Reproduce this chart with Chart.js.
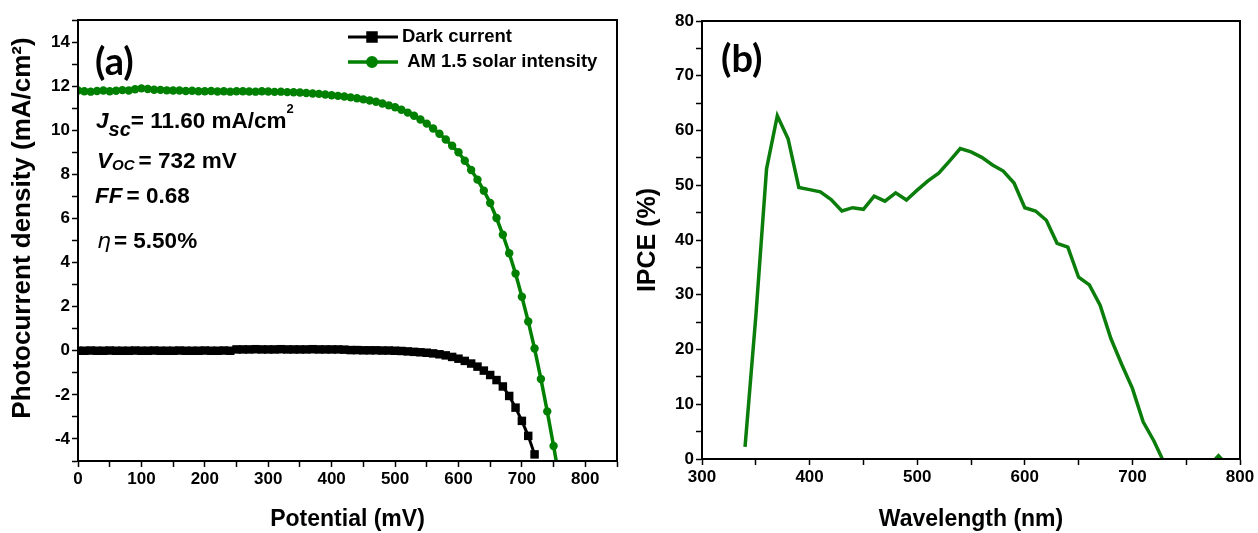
<!DOCTYPE html>
<html>
<head>
<meta charset="utf-8">
<script src="https://cdn.jsdelivr.net/npm/chart.js@4.4.1/dist/chart.umd.min.js"></script>
<style>
  body { margin: 0; background: #fff; }
  #wrap { position: relative; width: 1258px; height: 533px; }
  #jv { position: absolute; left: 0; top: 0; }
  #ipce { position: absolute; left: 630px; top: 0; }
</style>
</head>
<body>
<div id="wrap">
  <canvas id="jv" width="630" height="533"></canvas>
  <canvas id="ipce" width="628" height="533"></canvas>
</div>
<script>
// (a) J-V curves, potential in mV
const potential = [0, 10, 20, 30, 40, 50, 60, 70, 80, 90, 100, 110, 120, 130, 140, 150, 160, 170, 180, 190,
  200, 210, 220, 230, 240, 250, 260, 270, 280, 290, 300, 310, 320, 330, 340, 350, 360, 370, 380, 390,
  400, 410, 420, 430, 440, 450, 460, 470, 480, 490, 500, 510, 520, 530, 540, 550, 560, 570, 580, 590,
  600, 610, 620, 630, 640, 650, 660, 670, 680, 690, 700, 710, 720, 730, 740, 750, 760];

const solarCurrent = [11.80, 11.77, 11.75, 11.78, 11.80, 11.77, 11.79, 11.82, 11.80, 11.86, 11.90, 11.87, 11.84, 11.83, 11.81, 11.80, 11.80, 11.78, 11.79, 11.77,
  11.77, 11.78, 11.76, 11.77, 11.75, 11.77, 11.77, 11.76, 11.75, 11.77, 11.76, 11.74, 11.75, 11.73, 11.72, 11.71, 11.69, 11.67, 11.65, 11.62,
  11.59, 11.56, 11.53, 11.49, 11.45, 11.40, 11.35, 11.29, 11.21, 11.13, 11.04, 10.93, 10.80, 10.66, 10.49, 10.30, 10.08, 9.84, 9.58, 9.30,
  9.00, 8.62, 8.20, 7.76, 7.26, 6.70, 6.02, 5.26, 4.42, 3.50, 2.45, 1.33, 0.10, -1.28, -2.75, -4.32, -5.95];

// dark current stops at 720 mV
const darkCurrent = [0.00, 0.00, 0.01, 0.00, 0.00, 0.01, 0.00, 0.00, 0.00, 0.01, 0.00, 0.00, 0.01, 0.00, 0.00, 0.00, 0.01, 0.00, 0.00, 0.00,
  0.01, 0.00, 0.00, 0.01, 0.00, 0.06, 0.06, 0.06, 0.07, 0.06, 0.06, 0.06, 0.07, 0.06, 0.06, 0.06, 0.06, 0.07, 0.06, 0.06,
  0.06, 0.06, 0.05, 0.03, 0.03, 0.02, 0.02, 0.02, 0.01, 0.01, 0.00, -0.01, -0.03, -0.05, -0.07, -0.09, -0.12, -0.16, -0.21, -0.28,
  -0.36, -0.46, -0.58, -0.72, -0.90, -1.10, -1.33, -1.62, -2.05, -2.58, -3.18, -3.86, -4.70];

// (b) IPCE spectrum
const wavelength = [340, 350, 360, 370, 380, 390, 400, 410, 420, 430, 440, 450, 460, 470, 480, 490, 500, 510, 520, 530,
  540, 550, 560, 570, 580, 590, 600, 610, 620, 630, 640, 650, 660, 670, 680, 690, 700, 710, 720, 730,
  740, 750, 760, 770, 780, 790];
const ipce = [2.2, 26.0, 53.0, 62.7, 58.5, 49.6, 49.2, 48.8, 47.4, 45.3, 45.9, 45.6, 48.0, 47.1, 48.6, 47.3, 49.1, 50.8, 52.2, 54.4,
  56.7, 56.1, 55.1, 53.7, 52.6, 50.4, 45.9, 45.3, 43.6, 39.4, 38.7, 33.2, 31.8, 28.1, 22.0, 17.3, 12.9, 6.8, 3.3, -0.9,
  null, null, null, -1.5, 0.6, -1.5];

const green = 'rgb(0,128,0)';
const ARIAL = '"Liberation Sans", Arial, sans-serif';
const tickFont = { family: ARIAL, size: 17, weight: 'bold' };

function xy(xs, ys) {
  return ys.map((y, i) => ({ x: xs[i], y: y }));
}

// linear axis with outward ticks, labels only on major steps
function axis(min, max, step, major, title, titleSize, titlePad, size, horizontal) {
  return {
    type: 'linear',
    min: min,
    max: max,
    border: { color: '#000', width: 2 },
    grid: { drawOnChartArea: false, color: '#000', tickColor: '#000', tickLength: 6, tickWidth: 1.5 },
    ticks: {
      stepSize: step,
      autoSkip: false,
      maxRotation: 0,
      color: '#000',
      font: tickFont,
      padding: 2,
      callback: (v) => (Math.abs(v % major) < 1e-6 ? String(v) : '')
    },
    title: { display: !!title, text: title, color: '#000', font: { family: ARIAL, size: titleSize, weight: 'bold' }, padding: titlePad },
    afterFit: (s) => { if (horizontal) s.height = size; else s.width = size; }
  };
}

// box round the plot area
const frame = {
  id: 'frame',
  afterDraw(chart) {
    const { ctx, chartArea: a } = chart;
    ctx.save();
    ctx.strokeStyle = '#000';
    ctx.lineWidth = 2;
    ctx.strokeRect(a.left, a.top, a.right - a.left, a.bottom - a.top);
    ctx.restore();
  }
};

// draws a row of text pieces one after another
function textRun(ctx, x, y, parts) {
  for (const p of parts) {
    ctx.font = p.font;
    ctx.fillText(p.t, x, y + (p.dy || 0));
    x += ctx.measureText(p.t).width + (p.gap || 0);
  }
}

const jvNotes = {
  id: 'jvNotes',
  afterDraw(chart) {
    const ctx = chart.ctx;
    ctx.save();
    ctx.fillStyle = '#000';

    // y axis title, sits a bit above the plot centre in the original
    ctx.save();
    ctx.translate(23, 228);
    ctx.rotate(-Math.PI / 2);
    ctx.textAlign = 'center';
    ctx.textBaseline = 'middle';
    ctx.font = 'bold 26px ' + ARIAL;
    ctx.fillText('Photocurrent density (mA/cm²)', 0, 0);
    ctx.restore();

    ctx.textBaseline = 'alphabetic';
    ctx.font = 'bold 38px Lato, "Open Sans", sans-serif';
    ctx.fillText('(a)', 95, 75);

    const b = 'bold 22.5px ' + ARIAL;
    const bi = 'italic bold 22.5px ' + ARIAL;
    textRun(ctx, 96, 128, [
      { t: 'J', font: bi },
      { t: 'sc', font: 'italic bold 20px ' + ARIAL, dy: 8 },
      { t: '= 11.60 mA/cm', font: b },
      { t: '2', font: 'bold 13px ' + ARIAL, dy: -15 }
    ]);
    textRun(ctx, 97, 168, [
      { t: 'V', font: bi },
      { t: 'OC', font: 'italic bold 15px ' + ARIAL, dy: 2, gap: 4 },
      { t: '= 732 mV', font: b }
    ]);
    textRun(ctx, 95, 203, [
      { t: 'FF', font: bi, gap: 4 },
      { t: '= 0.68', font: b }
    ]);
    textRun(ctx, 97, 248, [
      { t: 'η', font: 'italic 22px "DejaVu Sans", sans-serif', gap: 3 },
      { t: '= 5.50%', font: b }
    ]);

    // legend
    const ds = chart.data.datasets;
    const rows = [[ds[0], 37, 'Dark current'], [ds[1], 62, ' AM 1.5 solar intensity']];
    for (const [d, y, label] of rows) {
      ctx.strokeStyle = d.borderColor;
      ctx.lineWidth = d.borderWidth;
      ctx.beginPath();
      ctx.moveTo(348, y);
      ctx.lineTo(398, y);
      ctx.stroke();
      Chart.helpers.drawPoint(ctx, { pointStyle: d.pointStyle, radius: d.pointRadius, borderWidth: 1 }, 372, y);
      ctx.fillStyle = d.borderColor;
      ctx.fill();
      ctx.fillStyle = '#000';
      ctx.font = 'bold 18.5px ' + ARIAL;
      ctx.textBaseline = 'middle';
      ctx.fillText(label, 402, y);
    }
    ctx.restore();
  }
};

const ipceNotes = {
  id: 'ipceNotes',
  afterDraw(chart) {
    const ctx = chart.ctx;
    ctx.save();
    ctx.fillStyle = '#000';
    ctx.font = 'bold 38px Lato, "Open Sans", sans-serif';
    ctx.fillText('(b)', 91, 72);
    ctx.restore();
  }
};

new Chart(document.getElementById('jv'), {
  type: 'line',
  data: {
    datasets: [
      {
        label: 'Dark current',
        data: xy(potential, darkCurrent),
        borderColor: '#000',
        backgroundColor: '#000',
        borderWidth: 3,
        pointStyle: 'rect',
        pointRadius: 6,
        pointBorderWidth: 0,
        tension: 0,
        clip: 0
      },
      {
        label: 'AM 1.5 solar intensity',
        data: xy(potential, solarCurrent),
        borderColor: green,
        backgroundColor: green,
        borderWidth: 3.5,
        pointStyle: 'circle',
        pointRadius: 4.2,
        pointBorderWidth: 0,
        tension: 0,
        clip: 0
      }
    ]
  },
  options: {
    responsive: false,
    animation: false,
    layout: { padding: { top: 20, right: 13, left: 0, bottom: 0 } },
    plugins: { legend: { display: false }, tooltip: { enabled: false } },
    scales: {
      x: axis(0, 850, 50, 100, 'Potential (mV)', 23, { top: 0, bottom: 0 }, 72, true),
      y: axis(-5, 15, 1, 2, '', 26, 0, 78, false)
    }
  },
  plugins: [frame, jvNotes]
});

new Chart(document.getElementById('ipce'), {
  type: 'line',
  data: {
    datasets: [{
      label: 'IPCE',
      data: xy(wavelength, ipce),
      borderColor: 'rgb(10,125,10)',
      borderWidth: 3.5,
      pointRadius: 0,
      tension: 0,
      spanGaps: false,
      clip: 0
    }]
  },
  options: {
    responsive: false,
    animation: false,
    layout: { padding: { top: 21, right: 18, left: 0, bottom: 0 } },
    plugins: { legend: { display: false }, tooltip: { enabled: false } },
    scales: {
      x: axis(300, 800, 50, 100, 'Wavelength (nm)', 23, { top: 0, bottom: 0 }, 74, true),
      y: axis(0, 80, 5, 10, 'IPCE (%)', 25, { top: 3, bottom: 0 }, 72, false)
    }
  },
  plugins: [frame, ipceNotes]
});
</script>
</body>
</html>
